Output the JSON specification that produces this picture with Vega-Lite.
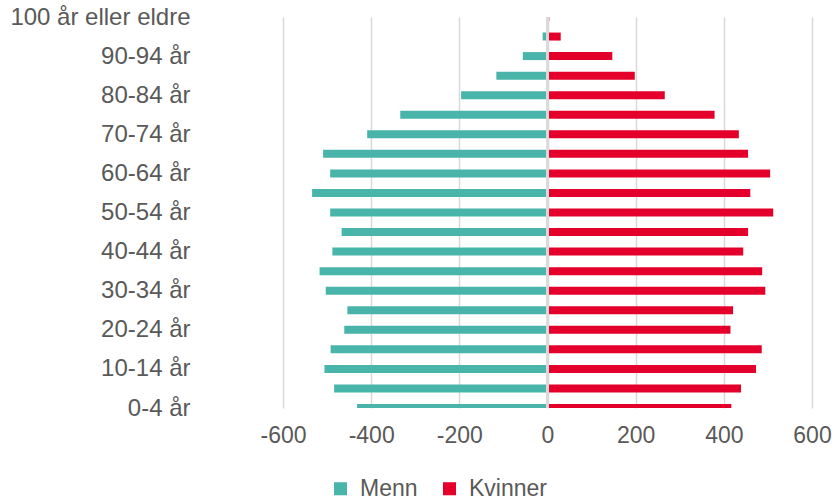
{
  "$schema": "https://vega.github.io/schema/vega-lite/v6.json",
  "width": 529,
  "height": 391,
  "autosize": {"type": "none"},
  "padding": {"left": 283, "top": 17, "right": 23, "bottom": 94},
  "background": "white",
  "config": {"view": {"stroke": null}, "font": "Liberation Sans"},
  "data": {
    "values": [
      {"alder": "0-4 år", "kjonn": "Menn", "antall": -432},
      {"alder": "5-9 år", "kjonn": "Menn", "antall": -484},
      {"alder": "10-14 år", "kjonn": "Menn", "antall": -506},
      {"alder": "15-19 år", "kjonn": "Menn", "antall": -492},
      {"alder": "20-24 år", "kjonn": "Menn", "antall": -461},
      {"alder": "25-29 år", "kjonn": "Menn", "antall": -454},
      {"alder": "30-34 år", "kjonn": "Menn", "antall": -503},
      {"alder": "35-39 år", "kjonn": "Menn", "antall": -517},
      {"alder": "40-44 år", "kjonn": "Menn", "antall": -488},
      {"alder": "45-49 år", "kjonn": "Menn", "antall": -467},
      {"alder": "50-54 år", "kjonn": "Menn", "antall": -493},
      {"alder": "55-59 år", "kjonn": "Menn", "antall": -534},
      {"alder": "60-64 år", "kjonn": "Menn", "antall": -493},
      {"alder": "65-69 år", "kjonn": "Menn", "antall": -509},
      {"alder": "70-74 år", "kjonn": "Menn", "antall": -409},
      {"alder": "75-79 år", "kjonn": "Menn", "antall": -334},
      {"alder": "80-84 år", "kjonn": "Menn", "antall": -196},
      {"alder": "85-89 år", "kjonn": "Menn", "antall": -116},
      {"alder": "90-94 år", "kjonn": "Menn", "antall": -56},
      {"alder": "95-99 år", "kjonn": "Menn", "antall": -11},
      {"alder": "100 år eller eldre", "kjonn": "Menn", "antall": -1},
      {"alder": "0-4 år", "kjonn": "Kvinner", "antall": 417},
      {"alder": "5-9 år", "kjonn": "Kvinner", "antall": 439},
      {"alder": "10-14 år", "kjonn": "Kvinner", "antall": 473},
      {"alder": "15-19 år", "kjonn": "Kvinner", "antall": 486},
      {"alder": "20-24 år", "kjonn": "Kvinner", "antall": 415},
      {"alder": "25-29 år", "kjonn": "Kvinner", "antall": 421},
      {"alder": "30-34 år", "kjonn": "Kvinner", "antall": 494},
      {"alder": "35-39 år", "kjonn": "Kvinner", "antall": 487},
      {"alder": "40-44 år", "kjonn": "Kvinner", "antall": 444},
      {"alder": "45-49 år", "kjonn": "Kvinner", "antall": 455},
      {"alder": "50-54 år", "kjonn": "Kvinner", "antall": 512},
      {"alder": "55-59 år", "kjonn": "Kvinner", "antall": 460},
      {"alder": "60-64 år", "kjonn": "Kvinner", "antall": 505},
      {"alder": "65-69 år", "kjonn": "Kvinner", "antall": 455},
      {"alder": "70-74 år", "kjonn": "Kvinner", "antall": 434},
      {"alder": "75-79 år", "kjonn": "Kvinner", "antall": 379},
      {"alder": "80-84 år", "kjonn": "Kvinner", "antall": 266},
      {"alder": "85-89 år", "kjonn": "Kvinner", "antall": 198},
      {"alder": "90-94 år", "kjonn": "Kvinner", "antall": 147},
      {"alder": "95-99 år", "kjonn": "Kvinner", "antall": 30},
      {"alder": "100 år eller eldre", "kjonn": "Kvinner", "antall": 4}
    ]
  },
  "layer": [
    {
      "mark": {"type": "bar", "height": 8, "clip": true},
      "encoding": {
        "y": {
          "field": "alder",
          "type": "nominal",
          "scale": {
            "type": "point",
            "padding": 0,
            "domain": ["100 år eller eldre", "95-99 år", "90-94 år", "85-89 år", "80-84 år", "75-79 år", "70-74 år", "65-69 år", "60-64 år", "55-59 år", "50-54 år", "45-49 år", "40-44 år", "35-39 år", "30-34 år", "25-29 år", "20-24 år", "15-19 år", "10-14 år", "5-9 år", "0-4 år"]
          },
          "axis": {
            "values": ["0-4 år", "10-14 år", "20-24 år", "30-34 år", "40-44 år", "50-54 år", "60-64 år", "70-74 år", "80-84 år", "90-94 år", "100 år eller eldre"],
            "title": null,
            "ticks": false,
            "domain": false,
            "grid": false,
            "labelPadding": 93,
            "labelFontSize": 24,
            "labelLimit": 300,
            "labelColor": "#595959",
            "labelOverlap": false
          }
        },
        "x": {
          "field": "antall",
          "type": "quantitative",
          "stack": null,
          "scale": {"domain": [-600, 600], "nice": false},
          "axis": {
            "values": [-600, -400, -200, 0, 200, 400, 600],
            "title": null,
            "ticks": false,
            "domain": false,
            "grid": true,
            "gridColor": "#d9d9d9",
            "gridWidth": 1.5,
            "labelPadding": 16,
            "labelFontSize": 23,
            "labelColor": "#595959",
            "labelFlush": false,
            "labelOverlap": false,
            "labelExpr": "datum.value < 0 ? '-' + abs(datum.value) : '' + datum.value"
          }
        },
        "color": {
          "field": "kjonn",
          "type": "nominal",
          "scale": {"domain": ["Menn", "Kvinner"], "range": ["#49B4AA", "#E5002B"]},
          "legend": {
            "title": null,
            "orient": "none",
            "legendX": 46,
            "legendY": 460,
            "direction": "horizontal",
            "symbolType": "square",
            "symbolSize": 170,
            "symbolStrokeWidth": 0,
            "symbolOpacity": 1,
            "labelFontSize": 23,
            "labelColor": "#595959",
            "labelOffset": 8,
            "columnPadding": 20
          }
        }
      }
    },
    {
      "mark": {"type": "rule", "color": "#d9d9d9", "strokeWidth": 1.5},
      "encoding": {"x": {"datum": 0}}
    }
  ]
}
